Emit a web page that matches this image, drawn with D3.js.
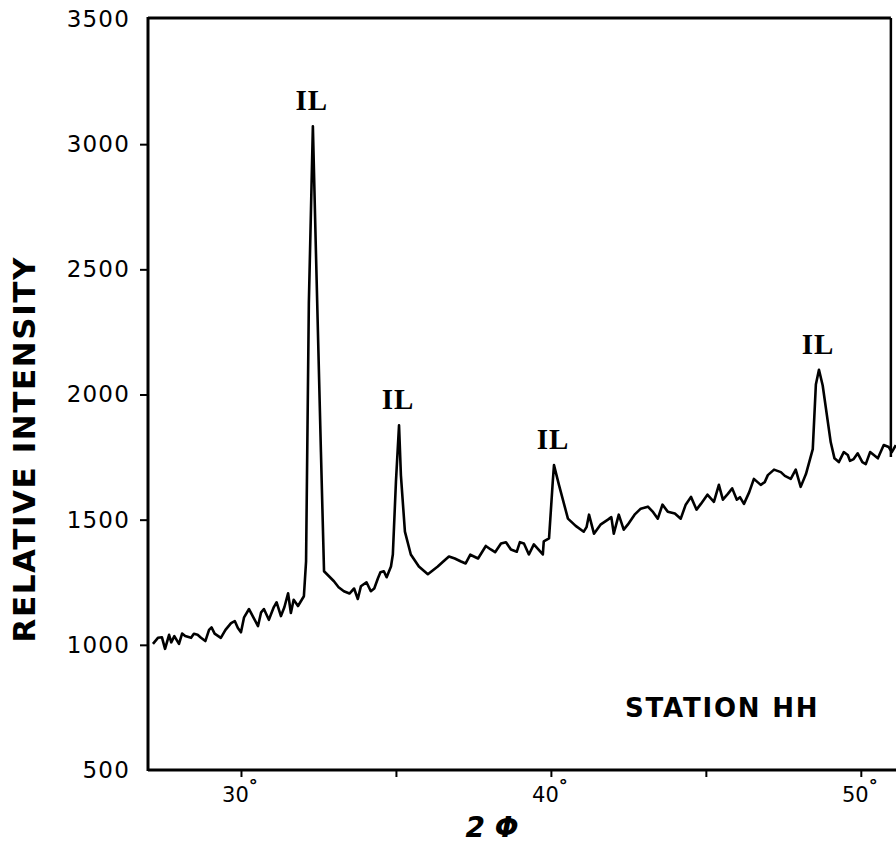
<!DOCTYPE html>
<html>
<head>
<meta charset="utf-8">
<script src="https://cdn.jsdelivr.net/npm/d3@7"></script>
<style>
  body { margin: 0; background: #fff; }
  svg { display: block; }
</style>
</head>
<body>
<div id="chart"></div>
<script>
// Diffraction trace (2 phi in degrees, relative intensity)
const angles = [
  27.16, 27.32, 27.45, 27.55, 27.68, 27.75, 27.85, 28.00, 28.10, 28.20, 28.39, 28.48, 28.60,
  28.71, 28.85, 28.97, 29.05, 29.15, 29.35, 29.50, 29.68, 29.80, 29.90, 30.00, 30.10, 30.26,
  30.40, 30.55, 30.65, 30.74, 30.90, 31.06, 31.15, 31.29, 31.40, 31.52, 31.61, 31.70, 31.84,
  32.03, 32.10, 32.19, 32.32, 32.42, 32.58, 32.68, 33.00, 33.15, 33.32, 33.50, 33.65, 33.77,
  33.87, 34.05, 34.19, 34.30, 34.42, 34.50, 34.61, 34.70, 34.84, 34.90, 35.00, 35.10, 35.16,
  35.29, 35.48, 35.74, 36.03, 36.35, 36.50, 36.71, 36.90, 37.10, 37.25, 37.40, 37.65, 37.90,
  38.06, 38.20, 38.39, 38.55, 38.71, 38.90, 39.00, 39.13, 39.29, 39.45, 39.74, 39.77, 39.94,
  40.06, 40.10, 40.26, 40.55, 40.80, 41.06, 41.15, 41.23, 41.39, 41.60, 41.84, 41.95, 42.03,
  42.19, 42.35, 42.48, 42.70, 42.90, 43.13, 43.30, 43.45, 43.60, 43.77, 44.00, 44.19, 44.35,
  44.52, 44.70, 44.84, 45.05, 45.26, 45.42, 45.55, 45.71, 45.85, 46.00, 46.10, 46.23, 46.40,
  46.55, 46.77, 46.90, 47.00, 47.20, 47.42, 47.55, 47.74, 47.90, 48.06, 48.23, 48.45, 48.55,
  48.65, 48.77, 49.03, 49.15, 49.29, 49.45, 49.58, 49.65, 49.77, 49.90, 50.05, 50.16, 50.30,
  50.42, 50.55, 50.74, 50.90, 51.00, 51.13
];
const intensity = [
  1004, 1028, 1030, 984, 1040, 1010, 1035, 1004, 1045, 1035, 1028, 1044, 1040,
  1028, 1015, 1060, 1070, 1045, 1028, 1060, 1087, 1095, 1067, 1050, 1110, 1143,
  1110, 1075, 1130, 1143, 1100, 1151, 1170, 1115, 1150, 1206, 1127, 1180, 1155,
  1194, 1333, 2365, 3071, 2563, 1770, 1294, 1254, 1230, 1214, 1205, 1225, 1183,
  1234, 1250, 1214, 1225, 1266, 1290, 1294, 1270, 1313, 1361, 1651, 1877, 1678,
  1452, 1361, 1313, 1282, 1313, 1330, 1353, 1345, 1333, 1325, 1360, 1345, 1395,
  1381, 1370, 1405, 1410, 1381, 1372, 1410, 1405, 1361, 1401, 1361, 1413, 1425,
  1651, 1718, 1639, 1504, 1475, 1452, 1470, 1520, 1444, 1480, 1500, 1510, 1444,
  1520, 1460, 1480, 1520, 1544, 1552, 1530, 1504, 1560, 1532, 1525, 1504, 1560,
  1591, 1540, 1563, 1600, 1571, 1639, 1580, 1603, 1625, 1580, 1590, 1563, 1610,
  1663, 1639, 1650, 1678, 1700, 1690, 1675, 1663, 1700, 1631, 1682, 1782, 2040,
  2099, 2036, 1809, 1745, 1730, 1770, 1758, 1735, 1742, 1765, 1730, 1722, 1770,
  1758, 1745, 1798, 1790, 1770, 1798
];

const yTicks = [500, 1000, 1500, 2000, 2500, 3000, 3500];
const xMajor = [30, 40, 50];
const xMinor = [35, 45];
const peakAngles = [32.32, 35.10, 40.10, 48.65];
const peakLabels = ["IL", "IL", "IL", "IL"];
const yLabel = "RELATIVE INTENSITY";
const xLabel = "2 Φ";
const stationLabel = "STATION HH";

const width = 896, height = 846;
const data = angles.map((a, i) => ({x: a, y: intensity[i]}));

const svg = d3.select("#chart").append("svg")
  .attr("width", width)
  .attr("height", height);

const x = d3.scaleLinear().domain([27, 51.2]).range([148, 898]);
const y = d3.scaleLinear().domain([500, 3500]).range([770, 19]);
const rightEdge = 50.97;

// frame: top line and right edge (right edge stops where the trace meets it)
svg.append("line")
  .attr("x1", x(27)).attr("x2", x(rightEdge))
  .attr("y1", y(3500) - 1).attr("y2", y(3500) - 1)
  .attr("stroke", "#000").attr("stroke-width", 3);
svg.append("line")
  .attr("x1", x(rightEdge)).attr("x2", x(rightEdge))
  .attr("y1", y(3500) - 1).attr("y2", y(1750))
  .attr("stroke", "#000").attr("stroke-width", 2.5);

// y axis
const yAxis = svg.append("g")
  .attr("transform", "translate(" + x(27) + ",0)")
  .call(d3.axisLeft(y).tickValues(yTicks).tickSize(8).tickPadding(10).tickFormat(d3.format("d")));
yAxis.select(".domain").attr("stroke-width", 3).attr("d", "M0," + (y(3500) - 2) + "V" + (y(500) + 1));
yAxis.selectAll(".tick line").attr("stroke-width", 2)
  .attr("opacity", (d) => (d === 500 || d === 3500) ? 0 : 1);
yAxis.selectAll(".tick text")
  .attr("font-family", "DejaVu Sans, sans-serif")
  .attr("font-size", 23)
  .attr("letter-spacing", 1.2)
  .attr("fill", "#000");

// x axis
const xAxis = svg.append("g")
  .attr("transform", "translate(0," + y(500) + ")")
  .call(d3.axisBottom(x).tickValues(xMajor.concat(xMinor)).tickSize(7).tickFormat(""));
xAxis.select(".domain").attr("stroke-width", 3).attr("d", "M" + x(27) + ",0H" + width);
xAxis.selectAll(".tick line").attr("stroke-width", 2);

const xt = svg.append("g").selectAll("text")
  .data(xMajor)
  .enter()
  .append("text")
  .attr("x", (d) => x(d) - 1)
  .attr("y", y(500) + 32)
  .attr("text-anchor", "middle")
  .attr("font-family", "DejaVu Sans, sans-serif")
  .attr("font-size", 21)
  .attr("fill", "#000");
xt.append("tspan").text((d) => d);
xt.append("tspan").attr("dy", -10).attr("font-size", 18).attr("font-weight", "bold").text("°");

// trace
svg.append("path")
  .datum(data)
  .attr("fill", "none")
  .attr("stroke", "#000")
  .attr("stroke-width", 2.6)
  .attr("stroke-linejoin", "round")
  .attr("d", d3.line().x((d) => x(d.x)).y((d) => y(d.y)));

// peak labels
const peakHeights = peakAngles.map((a) => intensity[angles.indexOf(a)]);
svg.append("g").selectAll("text")
  .data(peakAngles)
  .enter()
  .append("text")
  .attr("x", (d) => x(d) - 1)
  .attr("y", (d, i) => y(peakHeights[i]) - 16)
  .attr("text-anchor", "middle")
  .attr("font-family", "Liberation Serif, DejaVu Serif, serif")
  .attr("font-weight", "bold")
  .attr("font-size", 29)
  .attr("letter-spacing", 1)
  .attr("fill", "#000")
  .text((d, i) => peakLabels[i]);

// axis titles
svg.append("text")
  .attr("transform", "translate(35,450) rotate(-90)")
  .attr("text-anchor", "middle")
  .attr("font-family", "DejaVu Sans, sans-serif")
  .attr("font-weight", "bold")
  .attr("font-size", 31)
  .attr("textLength", 385)
  .attr("fill", "#000")
  .text(yLabel);

svg.append("text")
  .attr("x", 492)
  .attr("y", 837)
  .attr("text-anchor", "middle")
  .attr("font-family", "DejaVu Sans, sans-serif")
  .attr("font-weight", "bold")
  .attr("font-size", 28)
  .attr("font-style", "italic")
  .attr("fill", "#000")
  .text(xLabel);

svg.append("text")
  .attr("x", 625)
  .attr("y", 717)
  .attr("font-family", "DejaVu Sans, sans-serif")
  .attr("font-weight", "bold")
  .attr("font-size", 26)
  .attr("letter-spacing", 1.8)
  .attr("fill", "#000")
  .text(stationLabel);
</script>
</body>
</html>
